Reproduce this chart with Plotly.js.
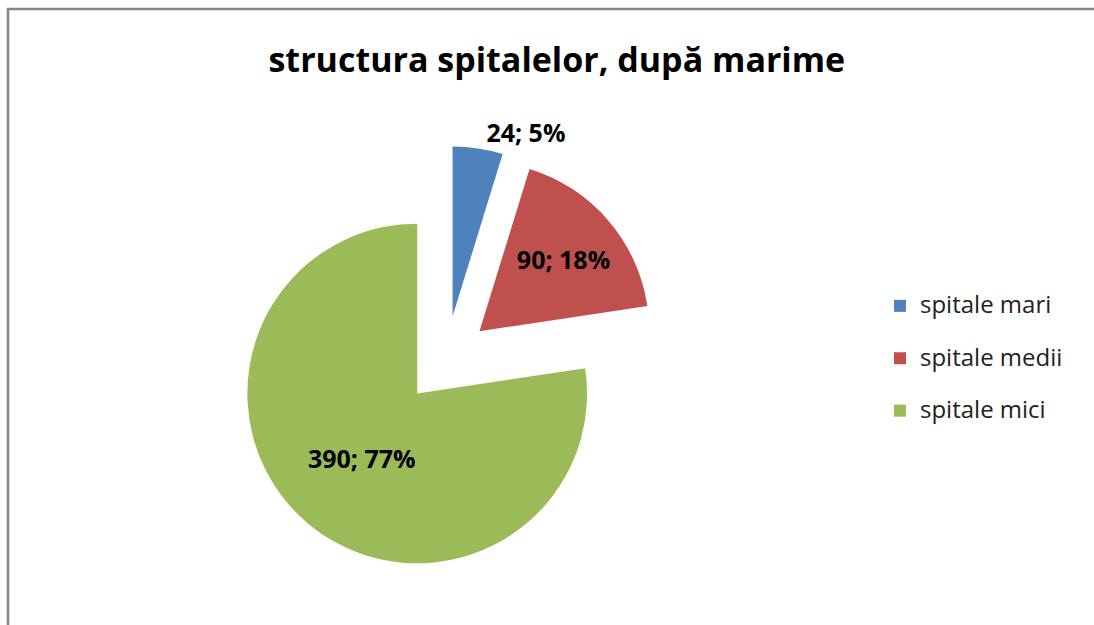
<!DOCTYPE html>
<html>
<head>
<meta charset="utf-8">
<script src="https://cdn.plot.ly/plotly-3.0.1.min.js"></script>
<style>html,body{margin:0;padding:0;background:#fff}#chart{width:1094px;height:625px}</style>
</head>
<body>
<div id="chart"></div>
<script>
const chartTitle = 'structura spitalelor, după marime';
const categories = ['spitale mari', 'spitale medii', 'spitale mici'];
const values = [24, 90, 390];
const colors = ['#4F81BD', '#C0504D', '#9BBB59'];
const pulls = [0.26, 0.26, 0.26];
const textPositions = ['outside', 'inside', 'inside'];

const W = 1094, H = 625;
const FONT = '"Open Sans", "Noto Sans", sans-serif';
const trace = {
  type: 'pie',
  labels: categories.map(c => '<span style="font-size:24px">' + c + '</span><br> '),
  values: values,
  sort: false,
  direction: 'clockwise',
  rotation: 0,
  pull: pulls,
  marker: {colors: colors, line: {width: 0}},
  texttemplate: '%{value}; %{percent:.0%}',
  textposition: textPositions,
  insidetextorientation: 'horizontal',
  textfont: {family: FONT, size: 25, color: '#000', weight: 'bold'},
  outsidetextfont: {family: FONT, size: 25, color: '#000', weight: 'bold'},
  hoverinfo: 'value+percent',
  domain: {x: [232 / W, 660 / W], y: [1 - 574 / H, 1 - 146 / H]},
  showlegend: true
};

const layout = {
  width: W, height: H,
  margin: {l: 0, r: 0, t: 0, b: 0},
  paper_bgcolor: '#fff',
  title: {
    text: '<b>' + chartTitle + '</b>',
    x: 0.509, xanchor: 'center', y: 1 - 60 / H, yanchor: 'middle',
    font: {family: FONT, size: 34, color: '#000'}
  },
  legend: {
    x: 880 / W, xanchor: 'left', y: 1 - 287 / H, yanchor: 'top',
    valign: 'top',
    font: {family: FONT, size: 19, color: '#222'},
    bgcolor: 'rgba(0,0,0,0)'
  },
  shapes: [{
    type: 'rect', xref: 'paper', yref: 'paper',
    x0: 8 / W, x1: 1.02, y0: -0.05, y1: 1 - 9 / H,
    line: {color: '#868686', width: 2.5}, fillcolor: 'rgba(0,0,0,0)'
  }]
};

Plotly.newPlot('chart', [trace], layout, {displayModeBar: false, staticPlot: true});
</script>
</body>
</html>
